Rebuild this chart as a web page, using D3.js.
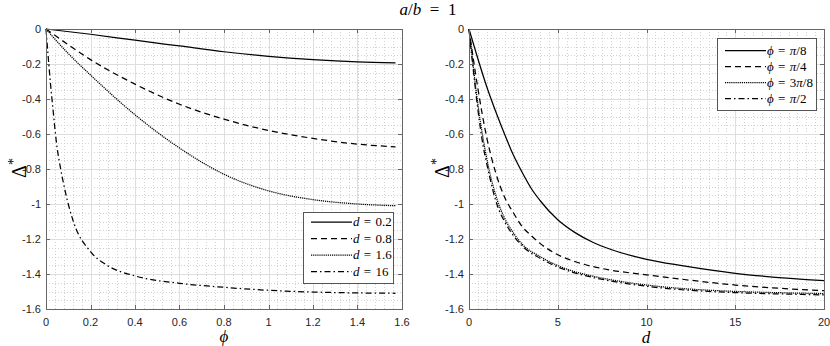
<!DOCTYPE html>
<html>
<head>
<meta charset="utf-8">
<script src="https://cdn.jsdelivr.net/npm/d3@7/dist/d3.min.js"></script>
<style>
body{margin:0;background:#fff;}
.ticklabel{font-family:"Liberation Sans",Arial,sans-serif;font-size:11px;fill:#262626;}
.tex{font-family:"Liberation Serif","Times New Roman",serif;fill:#000;}
</style>
</head>
<body>
<svg id="chart" width="830" height="346"></svg>
<script>
// ---- ticks ----
var phiTicks = [0,0.2,0.4,0.6,0.8,1,1.2,1.4,1.6];
var phiTickLabels = ["0","0.2","0.4","0.6","0.8","1","1.2","1.4","1.6"];
var dTicks = [0,5,10,15,20];
var dTickLabels = ["0","5","10","15","20"];
var deltaTicks = [0,-0.2,-0.4,-0.6,-0.8,-1,-1.2,-1.4,-1.6];
var deltaTickLabels = ["0","-0.2","-0.4","-0.6","-0.8","-1","-1.2","-1.4","-1.6"];

// ---- left panel: Delta* against phi ----
var phiD02 = [0,0.2,0.4,0.6,0.8,1.0,1.2,1.4,1.5708];
var deltaD02 = [0,-0.030,-0.064,-0.097,-0.130,-0.156,-0.175,-0.188,-0.194];
var phiD08 = [0,0.1,0.2,0.4,0.6,0.8,1.0,1.2,1.4,1.5708];
var deltaD08 = [0,-0.09,-0.175,-0.315,-0.43,-0.515,-0.58,-0.625,-0.658,-0.673];
var phiD16 = [0,0.1,0.2,0.4,0.6,0.8,1.0,1.2,1.4,1.5708];
var deltaD16 = [0,-0.14,-0.263,-0.49,-0.68,-0.83,-0.925,-0.975,-1.0,-1.01];
var phiD160 = [0,0.01,0.02,0.03,0.048,0.066,0.085,0.123,0.2,0.273,0.4,0.6,0.8,1.0,1.2,1.4,1.5708];
var deltaD160 = [0,-0.16,-0.31,-0.44,-0.66,-0.8,-0.92,-1.1,-1.272,-1.349,-1.411,-1.453,-1.476,-1.493,-1.503,-1.508,-1.51];
var legendLeft = ["d = 0.2","d = 0.8","d = 1.6","d = 16"];

// ---- right panel: Delta* against d ----
var dPi8 = [0,0.5,1,1.5,2,2.5,3,3.5,4,5,6,7,8,10,12,15,20];
var deltaPi8 = [0,-0.17,-0.33,-0.47,-0.6,-0.72,-0.82,-0.91,-0.98,-1.09,-1.165,-1.22,-1.26,-1.316,-1.352,-1.396,-1.438];
var dPi4 = [0,0.5,1,1.5,2,2.5,3,3.5,4,5,6,7,8,10,12,15,20];
var deltaPi4 = [0,-0.34,-0.62,-0.82,-0.96,-1.05,-1.13,-1.18,-1.225,-1.29,-1.33,-1.358,-1.378,-1.405,-1.43,-1.463,-1.495];
var d3Pi8 = [0,0.2,0.5,0.8,1,1.6,2,2.5,3,4,5,6,7,8,10,12,14,16,18,20];
var delta3Pi8 = [0,-0.18,-0.43,-0.63,-0.74,-0.98,-1.08,-1.165,-1.23,-1.30,-1.352,-1.388,-1.413,-1.433,-1.463,-1.483,-1.495,-1.503,-1.508,-1.512];
var dPi2 = [0,0.2,0.5,0.8,1,1.6,2,2.5,3,4,5,6,7,8,10,12,14,16,18,20];
var deltaPi2 = [0,-0.195,-0.46,-0.67,-0.77,-1.01,-1.1,-1.18,-1.24,-1.31,-1.36,-1.395,-1.42,-1.44,-1.47,-1.49,-1.502,-1.51,-1.515,-1.52];
var legendRight = ["ϕ = π/8","ϕ = π/4","ϕ = 3π/8","ϕ = π/2"];

var dashes = [null,"6,4","1.2,0.9","6,3,1.5,3"];

// writes a math string: letters italic, digits and signs upright
function texText(sel,str,space){
    space = space || "\u2004";
    var runs = [];
    for(var i = 0 ; i < str.length ; ++i){
        var c = str[i];
        var it = /[a-zA-Zϕπ]/.test(c);
        if(runs.length && runs[runs.length-1].it == it)
            runs[runs.length-1].s += c;
        else
            runs.push({s:c,it:it});
    }
    runs.forEach(function(r){
        sel.append("tspan")
            .attr("font-style",r.it ? "italic" : "normal")
            .text(r.s.replace(/ /g,space));
    });
    return sel;
}

class PlotPanel{

    constructor(svg,box,xDomain,yDomain){
        this.box = box;
        this.g = svg.append("g");
        this.x = d3.scaleLinear().domain(xDomain).range([box.left,box.right]);
        this.y = d3.scaleLinear().domain(yDomain).range([box.bottom,box.top]);
        this.gridLayer = this.g.append("g");
        this.lineLayer = this.g.append("g");
        this.axisLayer = this.g.append("g");
        this.legendLayer = this.g.append("g");
    }

    drawGrid(xMinor,yMinor,xTicks,yTicks){
        var x = this.x, y = this.y, b = this.box;
        var gl = this.gridLayer;
        //minor first, dotted
        gl.selectAll(".xminor").data(xMinor).enter().append("line")
            .attr("x1",d => Math.round(x(d))+0.5).attr("x2",d => Math.round(x(d))+0.5)
            .attr("y1",b.top).attr("y2",b.bottom)
            .attr("stroke","#d2d2d2").attr("stroke-dasharray","1,2");
        gl.selectAll(".yminor").data(yMinor).enter().append("line")
            .attr("y1",d => Math.round(y(d))+0.5).attr("y2",d => Math.round(y(d))+0.5)
            .attr("x1",b.left).attr("x2",b.right)
            .attr("stroke","#d2d2d2").attr("stroke-dasharray","1,2");
        //major
        gl.selectAll(".xmajor").data(xTicks).enter().append("line")
            .attr("x1",d => Math.round(x(d))+0.5).attr("x2",d => Math.round(x(d))+0.5)
            .attr("y1",b.top).attr("y2",b.bottom)
            .attr("stroke","#dedede");
        gl.selectAll(".ymajor").data(yTicks).enter().append("line")
            .attr("y1",d => Math.round(y(d))+0.5).attr("y2",d => Math.round(y(d))+0.5)
            .attr("x1",b.left).attr("x2",b.right)
            .attr("stroke","#dedede");
    }

    drawAxes(xTicks,xLabels,yTicks,yLabels){
        var x = this.x, y = this.y, b = this.box;
        var al = this.axisLayer;
        var tl = 4;
        al.append("rect")
            .attr("x",b.left+0.5).attr("y",b.top+0.5)
            .attr("width",b.right-b.left).attr("height",b.bottom-b.top)
            .attr("fill","none").attr("stroke","#666");
        xTicks.forEach(function(t,i){
            var px = Math.round(x(t))+0.5;
            al.append("line").attr("x1",px).attr("x2",px).attr("y1",b.bottom).attr("y2",b.bottom-tl).attr("stroke","#666");
            al.append("line").attr("x1",px).attr("x2",px).attr("y1",b.top).attr("y2",b.top+tl).attr("stroke","#666");
            al.append("text").attr("class","ticklabel")
                .attr("x",x(t)).attr("y",b.bottom+17)
                .attr("text-anchor","middle")
                .text(xLabels[i]);
        });
        yTicks.forEach(function(t,i){
            var py = Math.round(y(t))+0.5;
            al.append("line").attr("y1",py).attr("y2",py).attr("x1",b.left).attr("x2",b.left+tl).attr("stroke","#666");
            al.append("line").attr("y1",py).attr("y2",py).attr("x1",b.right).attr("x2",b.right-tl).attr("stroke","#666");
            al.append("text").attr("class","ticklabel")
                .attr("x",b.left-5).attr("y",y(t)+4)
                .attr("text-anchor","end")
                .text(yLabels[i]);
        });
    }

    drawSeries(xs,ys,dash){
        var x = this.x, y = this.y;
        var pts = xs.map((v,i) => [v,ys[i]]);
        var line = d3.line()
            .x(d => x(d[0]))
            .y(d => y(d[1]))
            .curve(d3.curveMonotoneX);
        this.lineLayer.append("path")
            .attr("d",line(pts))
            .attr("fill","none")
            .attr("stroke","#000")
            .attr("stroke-width",1.25)
            .attr("stroke-dasharray",dash);
    }

    drawLegend(lb,labels,dashes){
        var ll = this.legendLayer;
        ll.append("rect")
            .attr("x",lb.x+0.5).attr("y",lb.y+0.5)
            .attr("width",lb.w).attr("height",lb.h)
            .attr("fill","#fff").attr("stroke","#555");
        labels.forEach(function(s,i){
            var yy = lb.y + lb.firstRow + i*lb.rowStep;
            ll.append("line")
                .attr("x1",lb.x+lb.lineStart).attr("x2",lb.x+lb.lineEnd)
                .attr("y1",yy).attr("y2",yy)
                .attr("stroke","#000").attr("stroke-width",1.25)
                .attr("stroke-dasharray",dashes[i]);
            var t = ll.append("text").attr("class","tex")
                .attr("x",lb.x+lb.lineEnd+1).attr("y",yy+4)
                .attr("font-size",13);
            texText(t,s);
        });
    }
}

var svg = d3.select("#chart");

// title
texText(svg.append("text").attr("class","tex")
    .attr("x",428).attr("y",15).attr("text-anchor","middle")
    .attr("font-size",17),"a/b = 1","\u2002");

// left panel
var left = new PlotPanel(svg,{left:46,right:402,top:29,bottom:309},[0,1.6],[-1.6,0]);
left.drawGrid(d3.range(0,1.6001,0.04),d3.range(-1.6,0.0001,0.05),phiTicks,deltaTicks);
left.drawSeries(phiD02,deltaD02,dashes[0]);
left.drawSeries(phiD08,deltaD08,dashes[1]);
left.drawSeries(phiD16,deltaD16,dashes[2]);
left.drawSeries(phiD160,deltaD160,dashes[3]);
left.drawAxes(phiTicks,phiTickLabels,deltaTicks,deltaTickLabels);
left.drawLegend({x:303,y:212,w:90,h:71,firstRow:10,rowStep:16.5,lineStart:8,lineEnd:49},legendLeft,dashes);

// right panel
var right = new PlotPanel(svg,{left:469,right:824,top:29,bottom:309},[0,20],[-1.6,0]);
right.drawGrid(d3.range(0,20.001,0.5),d3.range(-1.6,0.0001,0.05),dTicks,deltaTicks);
right.drawSeries(dPi8,deltaPi8,dashes[0]);
right.drawSeries(dPi4,deltaPi4,dashes[1]);
right.drawSeries(d3Pi8,delta3Pi8,dashes[2]);
right.drawSeries(dPi2,deltaPi2,dashes[3]);
right.drawAxes(dTicks,dTickLabels,deltaTicks,deltaTickLabels);
right.drawLegend({x:717,y:38,w:99,h:72,firstRow:12.5,rowStep:16,lineStart:8,lineEnd:49},legendRight,dashes);

// axis labels
texText(svg.append("text").attr("class","tex")
    .attr("x",224).attr("y",342).attr("text-anchor","middle")
    .attr("font-size",17),"ϕ");
texText(svg.append("text").attr("class","tex")
    .attr("x",646).attr("y",343).attr("text-anchor","middle")
    .attr("font-size",17),"d");

[26,449].forEach(function(xx){
    var t = svg.append("text").attr("class","tex")
        .attr("transform","translate(" + xx + ",168) rotate(-90)")
        .attr("text-anchor","middle")
        .attr("font-size",20);
    t.append("tspan").text("Δ");
    t.append("tspan").attr("font-size",14).attr("dy",-8).text("*");
});
</script>
</body>
</html>
